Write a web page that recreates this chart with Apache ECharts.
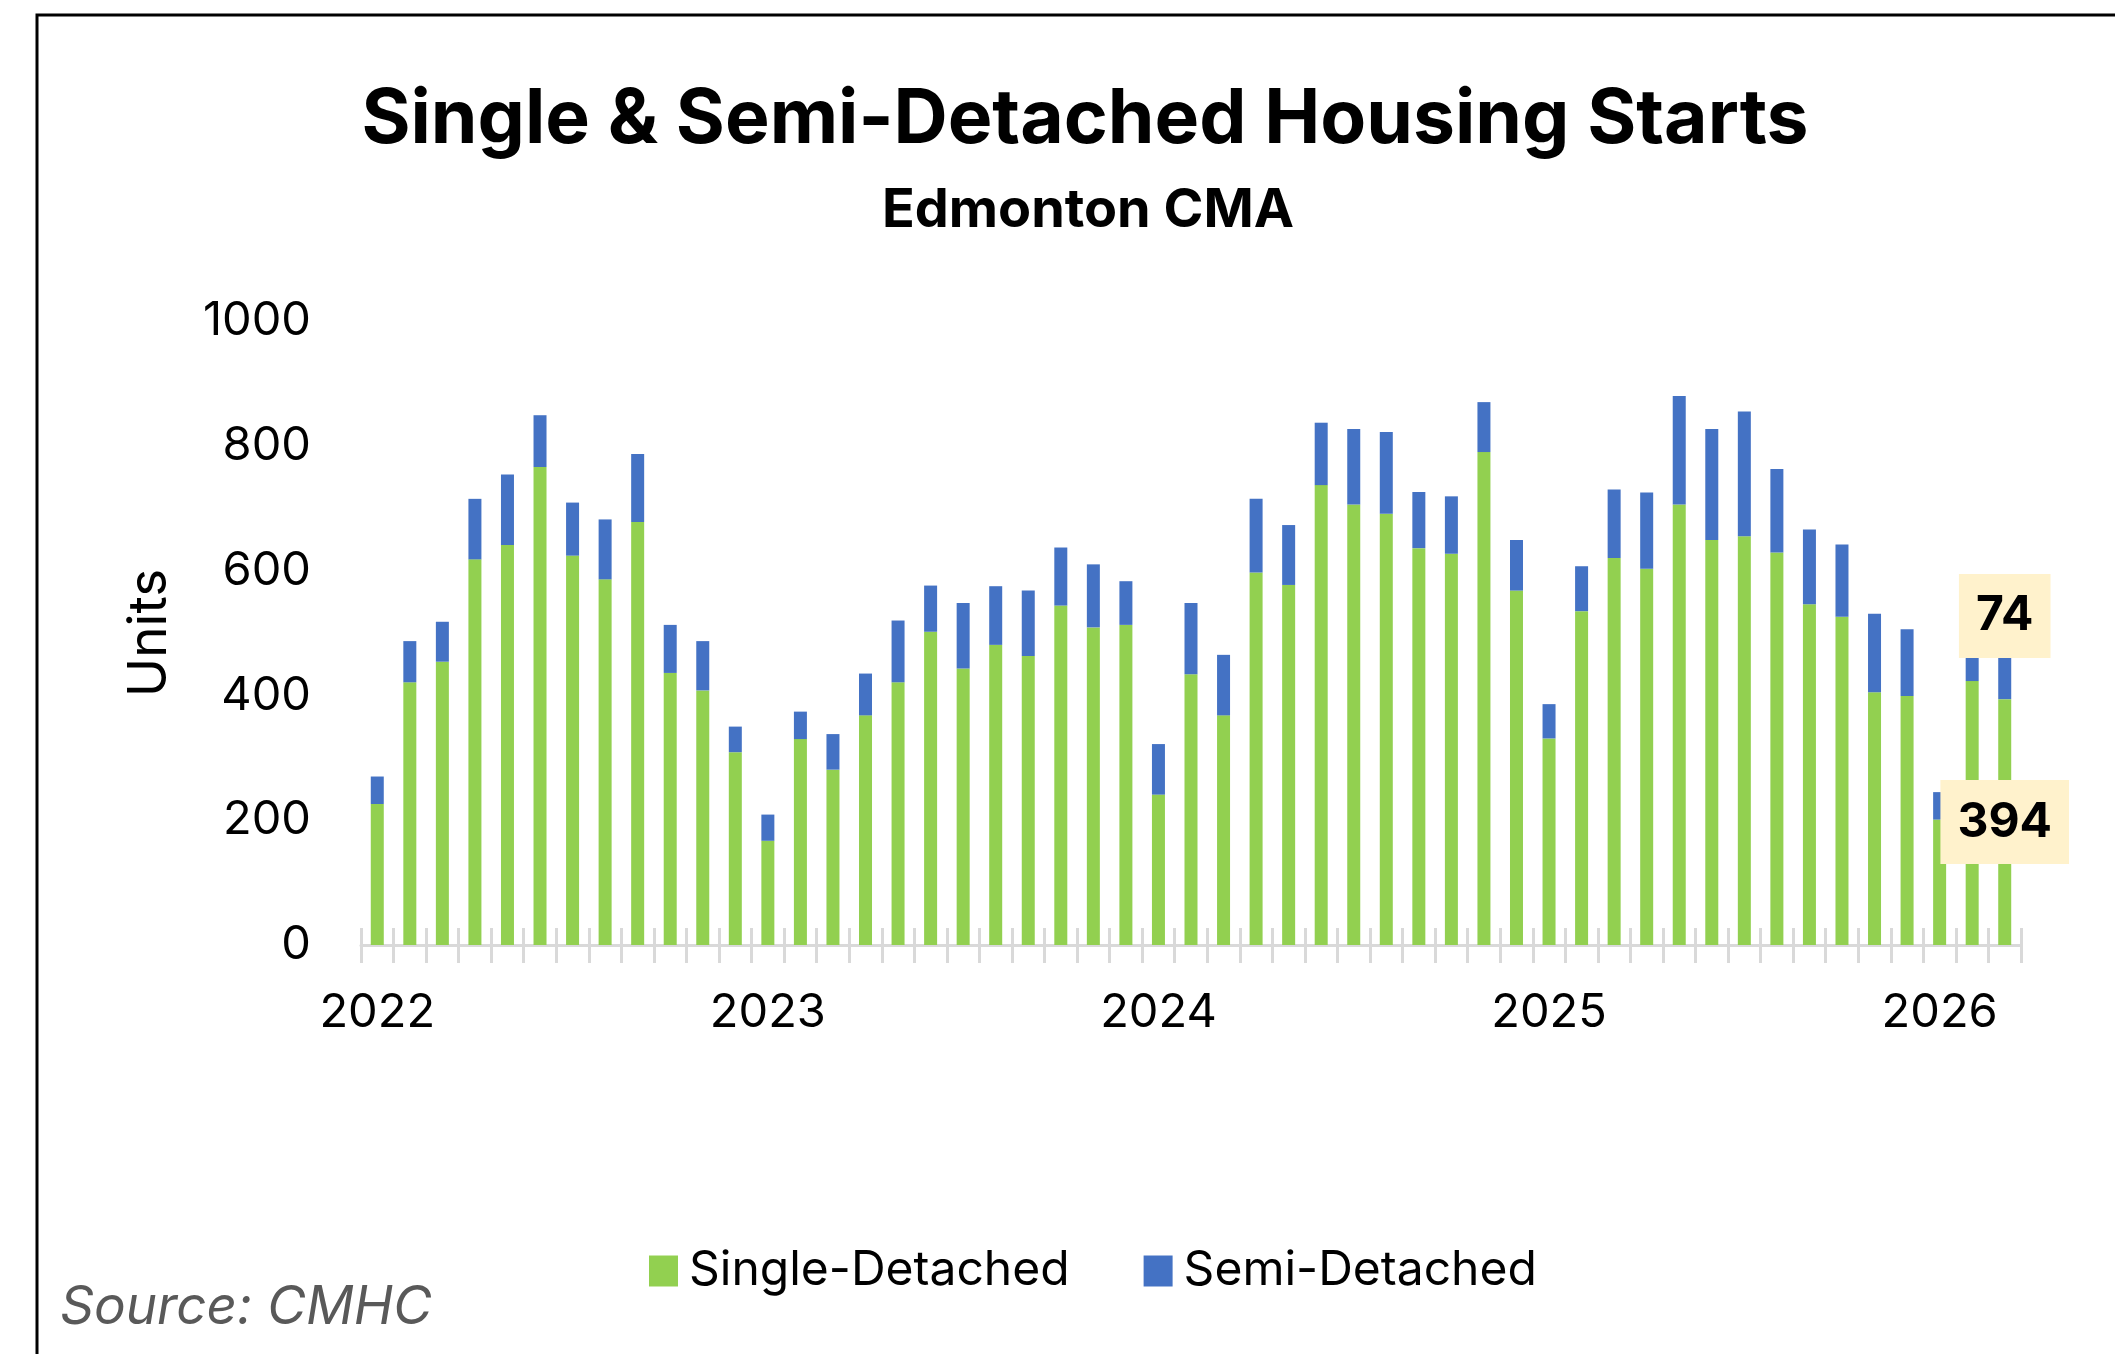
<!DOCTYPE html>
<html>
<head>
<meta charset="utf-8">
<script src="https://cdn.jsdelivr.net/npm/echarts@6/dist/echarts.min.js"></script>
<style>
  html, body { margin: 0; padding: 0; background: #fff; }
  #chart { width: 2115px; height: 1354px; }
</style>
</head>
<body>
<div id="chart"></div>
<script>
// monthly categories, Jan 2022 .. Mar 2026
var months = [];
var years = [2022, 2023, 2024, 2025, 2026];
years.forEach(function (y) {
  for (var m = 1; m <= 12; m++) {
    if (y === 2026 && m > 3) break;
    months.push(y + '-' + (m < 10 ? '0' + m : m));
  }
});

// values (units)
var singleDetached = [
  226, 421, 454, 618, 641, 766, 624, 586, 678, 436, 408, 309,
  167, 330, 281, 368, 421, 502, 443, 481, 463, 544, 509, 513,
  241, 434, 368, 597, 577, 737, 706, 691, 636, 627, 790, 568,
  331, 535, 620, 603, 706, 649, 655, 629, 546, 526, 405, 399,
  201, 423, 394
];
var semiDetached = [
  44, 66, 64, 97, 113, 83, 85, 96, 109, 77, 79, 41,
  42, 44, 57, 67, 99, 74, 105, 94, 105, 93, 101, 70,
  81, 114, 97, 118, 96, 100, 121, 131, 90, 92, 80, 81,
  55, 72, 110, 122, 174, 178, 200, 134, 120, 116, 126, 107,
  44, 70, 74
];
var yTicks = [0, 200, 400, 600, 800, 1000];

var FONT = 'Inter, Lato, sans-serif';
var GREEN = '#92D050';
var BLUE = '#4472C4';
var lastIdx = months.length - 1;

// only the latest month gets a callout box
function withCallout(values, offset) {
  return values.map(function (v, i) {
    if (i !== lastIdx) return v;
    return {
      value: v,
      label: {
        show: true,
        position: 'inside',
        offset: offset,
        fontFamily: FONT,
        fontWeight: 'bold',
        fontSize: 48,
        color: '#000',
        backgroundColor: '#FFF2CC',
        padding: [19, 17, 17, 17]
      }
    };
  });
}

var chart = echarts.init(document.getElementById('chart'), null, { renderer: 'canvas' });

var option = {
  backgroundColor: '#fff',
  animation: false,
  title: [
    {
      text: 'Single & Semi-Detached Housing Starts',
      left: 1080, top: 78, textAlign: 'center',
      textStyle: { fontFamily: FONT, fontWeight: 'bold', fontSize: 75, color: '#000' }
    },
    {
      text: 'Edmonton CMA',
      left: 1083, top: 179, textAlign: 'center',
      textStyle: { fontFamily: FONT, fontWeight: 'bold', fontSize: 54, color: '#000' }
    }
  ],
  legend: {
    left: 644,
    top: 1242,
    itemWidth: 29,
    itemHeight: 31,
    itemGap: 74,
    icon: 'rect',
    data: ['Single-Detached', 'Semi-Detached'],
    textStyle: { fontFamily: FONT, fontSize: 48, color: '#000', padding: [0, 0, 0, 6] }
  },
  grid: { left: 361, right: 94, top: 321, bottom: 409, containLabel: false },
  xAxis: [
    {
      type: 'category',
      data: months,
      boundaryGap: true,
      axisLine: { show: true, lineStyle: { color: '#D9D9D9', width: 3 } },
      axisTick: { show: true, interval: 0, length: 18, lineStyle: { color: '#D9D9D9', width: 3 } },
      axisLabel: {
        interval: function (i) { return i % 12 === 0; },
        formatter: function (v) { return v.slice(0, 4); },
        fontFamily: FONT, fontSize: 47, color: '#000', margin: 44
      }
    },
    {
      // second copy of the axis just for the ticks poking up above the line
      type: 'category',
      data: months,
      position: 'bottom',
      boundaryGap: true,
      axisLine: { show: false },
      axisTick: { show: true, inside: true, interval: 0, length: 17, lineStyle: { color: '#D9D9D9', width: 3 } },
      axisLabel: { show: false }
    }
  ],
  yAxis: {
    type: 'value',
    min: yTicks[0],
    max: yTicks[yTicks.length - 1],
    interval: 200,
    name: 'Units',
    nameLocation: 'middle',
    nameRotate: 90,
    nameGap: 184,
    nameTextStyle: { fontFamily: FONT, fontSize: 53, color: '#000' },
    axisLine: { show: false },
    axisTick: { show: false },
    splitLine: { show: false },
    axisLabel: {
      formatter: function (v) { return String(v); },
      fontFamily: FONT, fontSize: 47, color: '#000', margin: 50
    }
  },
  series: [
    {
      name: 'Single-Detached',
      type: 'bar',
      stack: 'starts',
      barWidth: 13,
      data: withCallout(singleDetached, [0, 0]),
      itemStyle: { color: GREEN },
      z: 2
    },
    {
      name: 'Semi-Detached',
      type: 'bar',
      stack: 'starts',
      barWidth: 13,
      data: withCallout(semiDetached, [0, -60]),
      itemStyle: { color: BLUE },
      z: 2
    }
  ],
  graphic: [
    {
      // outer frame, runs off the right and bottom edges like the original
      type: 'rect',
      shape: { x: 37, y: 15, width: 2200, height: 1500 },
      style: { fill: 'none', stroke: '#000', lineWidth: 3 },
      silent: true
    },
    {
      type: 'text',
      left: 60,
      top: 1282,
      style: {
        text: 'Source: CMHC',
        font: 'italic 53px ' + FONT,
        fill: '#595959'
      }
    }
  ]
};

chart.setOption(option);
</script>
</body>
</html>
